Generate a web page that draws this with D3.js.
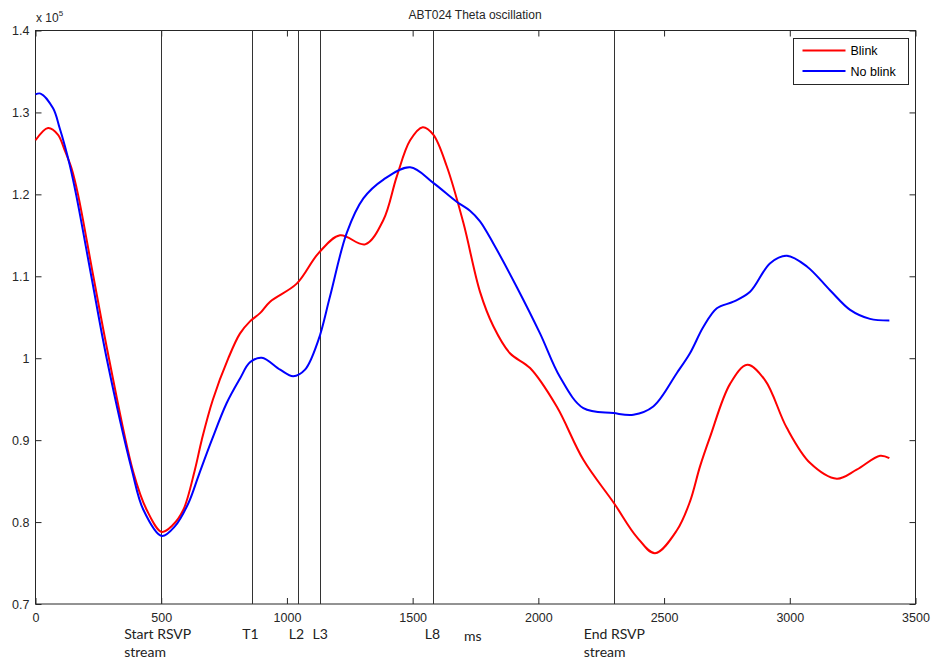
<!DOCTYPE html>
<html>
<head>
<meta charset="utf-8">
<script src="https://cdn.jsdelivr.net/npm/d3@7"></script>
<style>
  body { margin: 0; background: #fff; }
  svg { display: block; }
</style>
</head>
<body>
<div id="chart"></div>
<script>
// values in units of 1e5
const blink = [
  [0,1.266],[50,1.281],[89,1.273],[116,1.254],[143,1.232],[169,1.2],[230,1.1],[292,1.0],
  [388,0.862],[442,0.815],[502,0.788],[545,0.796],[588,0.815],[634,0.864],[661,0.9],[705,0.949],
  [767,1.0],[813,1.030],[853,1.045],[893,1.055],[933,1.069],[1039,1.091],[1125,1.128],
  [1211,1.150],[1311,1.139],[1384,1.169],[1437,1.222],[1490,1.266],[1540,1.282],[1582,1.273],
  [1636,1.234],[1702,1.165],[1768,1.081],[1821,1.039],[1887,1.006],[1967,0.988],[2073,0.941],
  [2179,0.876],[2301,0.823],[2391,0.782],[2464,0.762],[2551,0.790],[2603,0.825],[2643,0.868],
  [2683,0.904],[2763,0.969],[2831,0.992],[2902,0.973],[2988,0.915],[3081,0.872],[3187,0.853],
  [3266,0.864],[3359,0.881],[3396,0.878]
];
const noBlink = [
  [0,1.322],[20,1.323],[70,1.305],[96,1.281],[116,1.260],[136,1.236],[162,1.199],[222,1.1],
  [283,1.0],[383,0.864],[429,0.815],[502,0.783],[555,0.795],[608,0.823],[650,0.858],[701,0.9],
  [760,0.945],[813,0.975],[853,0.995],[900,1.0006],[973,0.986],[1025,0.978],[1072,0.986],
  [1125,1.022],[1171,1.075],[1238,1.153],[1304,1.195],[1384,1.218],[1490,1.233],[1582,1.214],
  [1675,1.191],[1728,1.180],[1768,1.167],[1821,1.140],[1914,1.087],[2007,1.030],[2086,0.977],
  [2179,0.939],[2298,0.933],[2378,0.931],[2457,0.941],[2551,0.982],[2603,1.006],[2656,1.038],
  [2710,1.061],[2776,1.069],[2842,1.081],[2922,1.116],[2988,1.125],[3068,1.112],[3160,1.083],
  [3240,1.059],[3319,1.048],[3396,1.046]
];
const markers = [
  { ms: 500, label: ["Start RSVP", "stream"], dx: -37 },
  { ms: 862, label: ["T1"], dx: -10 },
  { ms: 1043, label: ["L2"], dx: -9 },
  { ms: 1130, label: ["L3"], dx: -7 },
  { ms: 1580, label: ["L8"], dx: -8 },
  { ms: 2300, label: ["End RSVP", "stream"], dx: -30 }
];
const xTicks = [0, 500, 1000, 1500, 2000, 2500, 3000, 3500];
const yTicks = [0.7, 0.8, 0.9, 1, 1.1, 1.2, 1.3, 1.4];
const series = [
  { name: "Blink", color: "#ff0000", data: blink },
  { name: "No blink", color: "#0000ff", data: noBlink }
];

const width = 932, height = 661;
const margin = { left: 35.5, right: 16.5, top: 30.5, bottom: 57 };

const svg = d3.select("#chart").append("svg")
  .attr("width", width)
  .attr("height", height);

const x = d3.scaleLinear().domain([0, 3500]).range([margin.left, width - margin.right]);
const y = d3.scaleLinear().domain([0.7, 1.4]).range([height - margin.bottom, margin.top]);

const axisFont = "'Liberation Sans', Arial, sans-serif";
const labelFont = "Lato, 'Open Sans', sans-serif";

// axes with inward ticks (bottom/top/left/right)
svg.append("g")
  .attr("transform", `translate(0,${y(0.7)})`)
  .call(d3.axisBottom(x).tickValues(xTicks).tickSize(-6).tickPadding(9).tickFormat(d3.format("d")))
  .call(g => g.select(".domain").remove());
svg.append("g")
  .attr("transform", `translate(0,${y(1.4)})`)
  .call(d3.axisTop(x).tickValues(xTicks).tickSize(-6).tickFormat(""))
  .call(g => g.select(".domain").remove());
svg.append("g")
  .attr("transform", `translate(${x(0)},0)`)
  .call(d3.axisLeft(y).tickValues(yTicks).tickSize(-6).tickPadding(6).tickFormat(d3.format("")))
  .call(g => g.select(".domain").remove());
svg.append("g")
  .attr("transform", `translate(${x(3500)},0)`)
  .call(d3.axisRight(y).tickValues(yTicks).tickSize(-6).tickFormat(""))
  .call(g => g.select(".domain").remove());

svg.selectAll(".tick line").attr("stroke", "#262626");
svg.selectAll(".tick text")
  .attr("fill", "#262626")
  .style("font-family", axisFont)
  .style("font-size", "12.5px");

// frame
svg.append("rect")
  .attr("x", x(0)).attr("y", y(1.4))
  .attr("width", x(3500) - x(0)).attr("height", y(0.7) - y(1.4))
  .attr("fill", "none").attr("stroke", "#262626").attr("stroke-width", 1);

// event markers
svg.selectAll(".marker")
  .data(markers)
  .enter()
  .append("line")
  .attr("x1", d => Math.round(x(d.ms)) + 0.5)
  .attr("x2", d => Math.round(x(d.ms)) + 0.5)
  .attr("y1", y(1.4)).attr("y2", y(0.7))
  .attr("stroke", "#333").attr("stroke-width", 1);

const labels = svg.selectAll(".mlabel")
  .data(markers)
  .enter()
  .append("text")
  .attr("x", d => x(d.ms) + d.dx)
  .attr("y", 639)
  .style("font-family", labelFont)
  .style("font-size", "14px")
  .attr("fill", "#222");
labels.selectAll("tspan")
  .data(d => d.label.map(t => ({ t, x: x(d.ms) + d.dx })))
  .enter()
  .append("tspan")
  .attr("x", d => d.x)
  .attr("dy", (d, i) => i ? 18 : 0)
  .text(d => d.t);

svg.append("text")
  .attr("x", 464).attr("y", 641)
  .style("font-family", labelFont)
  .style("font-size", "14px")
  .attr("fill", "#222")
  .text("ms");

// curves
const line = d3.line()
  .x(d => x(d[0]))
  .y(d => y(d[1]))
  .curve(d3.curveCatmullRom.alpha(0.5));

svg.selectAll(".series")
  .data(series)
  .enter()
  .append("path")
  .attr("d", d => line(d.data))
  .attr("fill", "none")
  .attr("stroke", d => d.color)
  .attr("stroke-width", 2);

// title and exponent
svg.append("text")
  .attr("x", 475).attr("y", 19)
  .attr("text-anchor", "middle")
  .style("font-family", axisFont)
  .style("font-size", "12px")
  .attr("fill", "#262626")
  .text("ABT024 Theta oscillation");

const expo = svg.append("text")
  .attr("x", 36).attr("y", 22)
  .style("font-family", axisFont)
  .style("font-size", "12px")
  .attr("fill", "#262626");
expo.append("tspan").text("x 10");
expo.append("tspan").attr("dy", -6).style("font-size", "8px").text("5");

// legend
const legend = svg.append("g").attr("transform", "translate(793.5,38.5)");
legend.append("rect")
  .attr("width", 115).attr("height", 46)
  .attr("fill", "#fff").attr("stroke", "#262626");
const items = legend.selectAll(".item")
  .data(series)
  .enter()
  .append("g")
  .attr("transform", (d, i) => `translate(0,${12 + i * 20.5})`);
items.append("line")
  .attr("x1", 9).attr("x2", 52)
  .attr("stroke", d => d.color).attr("stroke-width", 2);
items.append("text")
  .attr("x", 57).attr("y", 4.5)
  .style("font-family", axisFont)
  .style("font-size", "12.5px")
  .attr("fill", "#000")
  .text(d => d.name);
</script>
</body>
</html>
